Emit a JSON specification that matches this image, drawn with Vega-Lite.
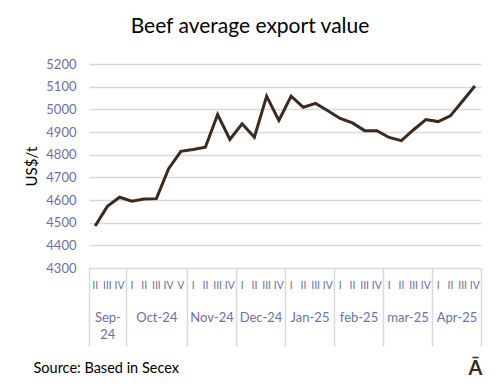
{
  "$schema": "https://vega.github.io/schema/vega-lite/v6.json",
  "width": 392,
  "height": 204,
  "autosize": "none",
  "padding": {"left": 89, "top": 64, "right": 19, "bottom": 123},
  "background": "white",
  "config": {"view": {"stroke": null}, "font": "Lato"},
  "title": {"text": "Beef average export value", "fontSize": 21, "fontWeight": "normal", "color": "#000000", "font": "Lato", "anchor": "middle", "dx": -35, "offset": 21},
  "data": {"values": [
    {"week": "Sep-24 II", "value": 4485},
    {"week": "Sep-24 III", "value": 4572},
    {"week": "Sep-24 IV", "value": 4612},
    {"week": "Oct-24 I", "value": 4595},
    {"week": "Oct-24 II", "value": 4604},
    {"week": "Oct-24 III", "value": 4606},
    {"week": "Oct-24 IV", "value": 4738},
    {"week": "Oct-24 V", "value": 4815},
    {"week": "Nov-24 I", "value": 4823},
    {"week": "Nov-24 II", "value": 4833},
    {"week": "Nov-24 III", "value": 4977},
    {"week": "Nov-24 IV", "value": 4867},
    {"week": "Dec-24 I", "value": 4936},
    {"week": "Dec-24 II", "value": 4877},
    {"week": "Dec-24 III", "value": 5058},
    {"week": "Dec-24 IV", "value": 4951},
    {"week": "Jan-25 I", "value": 5058},
    {"week": "Jan-25 II", "value": 5009},
    {"week": "Jan-25 III", "value": 5026},
    {"week": "Jan-25 IV", "value": 4994},
    {"week": "feb-25 I", "value": 4960},
    {"week": "feb-25 II", "value": 4940},
    {"week": "feb-25 III", "value": 4906},
    {"week": "feb-25 IV", "value": 4906},
    {"week": "mar-25 I", "value": 4876},
    {"week": "mar-25 II", "value": 4862},
    {"week": "mar-25 III", "value": 4910},
    {"week": "mar-25 IV", "value": 4955},
    {"week": "Apr-25 I", "value": 4946},
    {"week": "Apr-25 II", "value": 4971},
    {"week": "Apr-25 III", "value": 5037},
    {"week": "Apr-25 IV", "value": 5103}
  ]},
  "layer": [
    {
      "mark": {"type": "line", "color": "#3b2a1f", "strokeWidth": 3},
      "encoding": {
        "x": {
          "field": "week", "type": "nominal", "sort": null,
          "scale": {"type": "band", "paddingInner": 0, "paddingOuter": 0},
          "axis": {
            "orient": "bottom",
            "labelExpr": "datum.value ? split(datum.value, ' ')[1] : ''",
            "ticks": false, "domain": false, "grid": false,
            "labelAngle": 0, "labelFontSize": 10.5, "labelColor": "#6f6f9f",
            "labelPadding": 12, "labelOverlap": false, "labelBound": false,
            "title": "Source: Based in Secex",
            "titleFontSize": 14.5, "titleFontWeight": "normal", "titleColor": "#000000",
            "titleAlign": "left", "titleAnchor": "start", "titleBaseline": "alphabetic",
            "titleX": -56, "titleY": 104
          }
        },
        "y": {
          "field": "value", "type": "quantitative",
          "scale": {"domain": [4300, 5200], "nice": false, "zero": false},
          "axis": {
            "values": [4300, 4400, 4500, 4600, 4700, 4800, 4900, 5000, 5100, 5200],
            "format": "d",
            "grid": true, "gridColor": "#d9d9d9", "gridWidth": 1.5,
            "ticks": false, "domain": false,
            "labelPadding": 13, "labelFontSize": 13, "labelColor": "#6f6f9f",
            "title": "US$/t", "titleFontSize": 15, "titleFontWeight": "normal",
            "titleColor": "#000000", "titlePadding": 6
          }
        }
      }
    },
    {
      "mark": {"type": "point", "opacity": 0},
      "encoding": {
        "x": {
          "field": "week", "type": "nominal", "sort": null,
          "axis": {
            "orient": "bottom",
            "tickBand": "extent",
            "tickSize": {"condition": {"test": "!datum.value || indexof(['Sep-24 IV','Oct-24 V','Nov-24 IV','Dec-24 IV','Jan-25 IV','feb-25 IV','mar-25 IV','Apr-25 IV'], datum.value) >= 0", "value": 78}, "value": 0},
            "tickColor": "#d9d9d9", "tickWidth": 1.5,
            "domain": false, "grid": false,
            "labelAngle": 0,
            "labelExpr": "indexof(['Sep-24 III','Oct-24 III','Nov-24 II','Dec-24 II','Jan-25 II','feb-25 II','mar-25 II','Apr-25 II'], datum.value) >= 0 ? (datum.value == 'Sep-24 III' ? ['Sep-', '24'] : split(datum.value, ' ')[0]) : ''",
            "labelOffset": {"condition": {"test": "datum.value == 'Sep-24 III' || datum.value == 'Oct-24 III'", "value": 0}, "value": 6.125},
            "labelPadding": 43, "labelFontSize": 13, "labelColor": "#6f6f9f",
            "labelLineHeight": 17, "labelOverlap": false, "labelBound": false, "labelLimit": 0,
            "title": "Ā",
            "titleFontSize": 20, "titleFontWeight": "bold", "titleColor": "#3b2a1f",
            "titleAlign": "right", "titleAnchor": "end", "titleBaseline": "alphabetic",
            "titleAngle": 0, "titleX": 393, "titleY": 106
          }
        }
      }
    }
  ],
  "resolve": {"axis": {"x": "independent"}}
}
